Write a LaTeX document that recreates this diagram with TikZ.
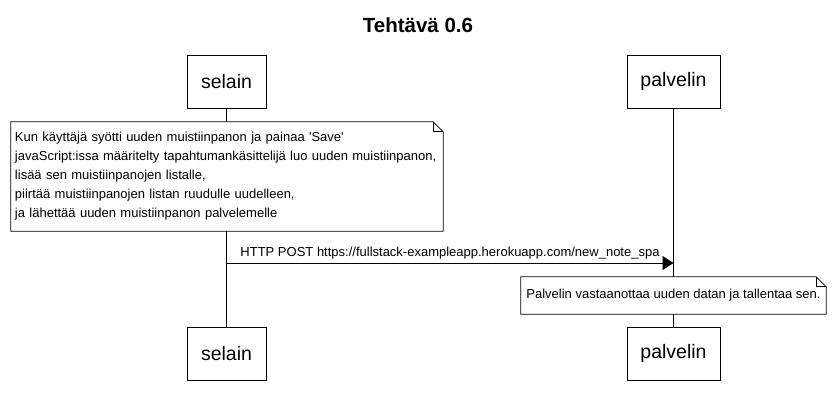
\documentclass[tikz,border=0pt]{standalone}
\usepackage{fontspec}
\setmainfont{Liberation Sans}
\usetikzlibrary{positioning,arrows.meta}

\begin{document}
\begin{tikzpicture}[x=1pt, y=1pt,
        actor/.style={rectangle, draw=black, fill=white, minimum width=79pt, minimum height=53pt, inner sep=0pt, font=\fontsize{19.5}{22}\selectfont},
        notebox/.style={rectangle, fill=white, inner sep=4pt, align=left, font=\fontsize{13}{19}\selectfont},
        lifeline/.style={draw=black, line width=0.8pt},
        msg/.style={line width=0.8pt, -{Triangle[length=11pt,width=14pt,fill=black]}}]
        \useasboundingbox (0,0) rectangle (836,-404);
        \node[font=\bfseries\fontsize{20.5}{24}\selectfont] at (418,-25) (title) {Tehtävä 0.6};
        \node[actor] at (226.5,-81.5) (selain) {selain};
        \node[actor, minimum width=93pt] at (673.5,-81.5) (palvelin) {palvelin};
        \node[actor] at (226.5,-353.5) (selainB) {selain};
        \node[actor, minimum width=93pt] at (673.5,-353.5) (palvelinB) {palvelin};
        % lifelines
        \draw[lifeline] (selain) -- (selainB);
        \draw[lifeline] (palvelin) -- (palvelinB);
        % notes
        \node[notebox, text width=424pt, minimum height=109pt] at (227,-176.5) (note1) {Kun käyttäjä syötti uuden muistiinpanon ja painaa \textquotesingle Save\textquotesingle\\javaScript:issa määritelty tapahtumankäsittelijä luo uuden muistiinpanon,\\lisää sen muistiinpanojen listalle,\\piirtää muistiinpanojen listan ruudulle uudelleen,\\ja lähettää uuden muistiinpanon palvelemelle};
        \draw[line width=0.8pt] (note1.south west) -- (note1.north west) -- ([xshift=-10pt]note1.north east) -- ([yshift=-10pt]note1.north east) -- (note1.south east) -- cycle;
        \draw[line width=0.8pt] ([xshift=-10pt]note1.north east) |- ([yshift=-10pt]note1.north east);
        \node[notebox, minimum width=305pt, minimum height=37pt] at (673.5,-295.5) (note2) {Palvelin vastaanottaa uuden datan ja tallentaa sen.};
        \draw[line width=0.8pt] (note2.south west) -- (note2.north west) -- ([xshift=-10pt]note2.north east) -- ([yshift=-10pt]note2.north east) -- (note2.south east) -- cycle;
        \draw[line width=0.8pt] ([xshift=-10pt]note2.north east) |- ([yshift=-10pt]note2.north east);
        % message
        \coordinate (from) at (226.5,-263);
        \coordinate (to) at (673.5,-263);
        \draw[msg] (from) -- node[above, font=\fontsize{13}{15}\selectfont, inner sep=3pt] (post) {HTTP POST https://fullstack-exampleapp.herokuapp.com/new\_note\_spa} (to);
\end{tikzpicture}
\end{document}
